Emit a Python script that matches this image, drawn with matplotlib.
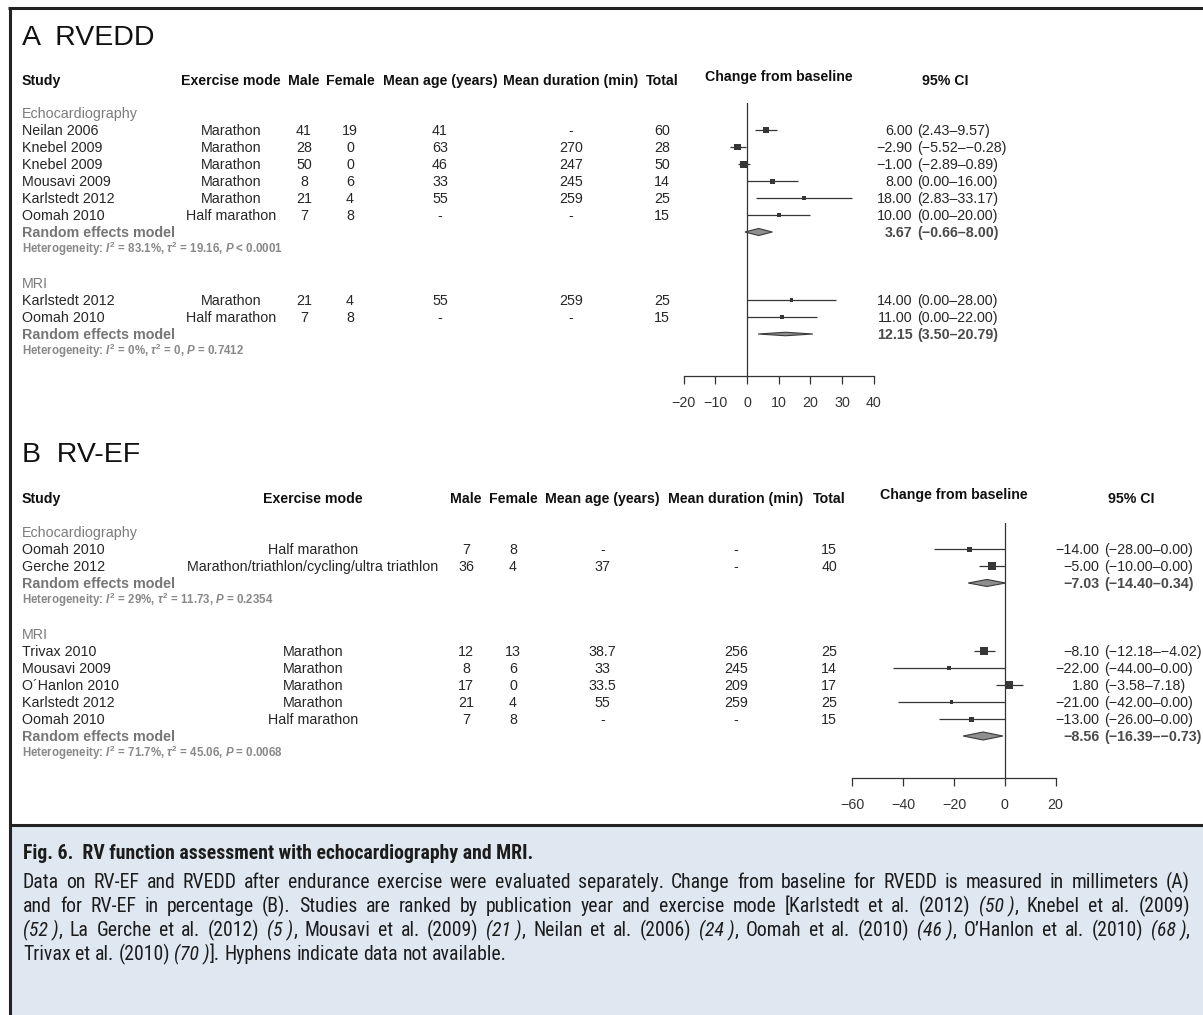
import os
import matplotlib
matplotlib.use("Agg")
import matplotlib.pyplot as plt
from matplotlib import font_manager as fm
from matplotlib.patches import Rectangle
import numpy as np

plt.rcParams["font.family"] = ["Liberation Sans", "DejaVu Sans"]
plt.rcParams["mathtext.fontset"] = "custom"
plt.rcParams["mathtext.rm"] = "Liberation Sans:bold"
plt.rcParams["mathtext.it"] = "Liberation Sans:italic:bold"
plt.rcParams["mathtext.bf"] = "Liberation Sans:bold"
plt.rcParams["axes.unicode_minus"] = True

# ---------------------------------------------------------------- data
header_labels = ["Exercise mode", "Male", "Female", "Mean age (years)",
                 "Mean duration (min)", "Total"]

# Panel A - RVEDD (mm), echocardiography
a_echo_study = ["Neilan 2006", "Knebel 2009", "Knebel 2009", "Mousavi 2009",
                "Karlstedt 2012", "Oomah 2010"]
a_echo_mode = ["Marathon", "Marathon", "Marathon", "Marathon", "Marathon",
               "Half marathon"]
a_echo_male = ["41", "28", "50", "8", "21", "7"]
a_echo_female = ["19", "0", "0", "6", "4", "8"]
a_echo_age = ["41", "63", "46", "33", "55", "-"]
a_echo_dur = ["-", "270", "247", "245", "259", "-"]
a_echo_total = ["60", "28", "50", "14", "25", "15"]
a_echo_est = [6.00, -2.90, -1.00, 8.00, 18.00, 10.00]
a_echo_lo = [2.43, -5.52, -2.89, 0.00, 2.83, 0.00]
a_echo_hi = [9.57, -0.28, 0.89, 16.00, 33.17, 20.00]
a_echo_weight = [40, 45, 49, 25, 10, 16]
a_echo_pooled = [3.67, -0.66, 8.00]
a_echo_het = ["83.1%", "19.16", "< 0.0001"]

# Panel A - RVEDD (mm), MRI
a_mri_study = ["Karlstedt 2012", "Oomah 2010"]
a_mri_mode = ["Marathon", "Half marathon"]
a_mri_male = ["21", "7"]
a_mri_female = ["4", "8"]
a_mri_age = ["55", "-"]
a_mri_dur = ["259", "-"]
a_mri_total = ["25", "15"]
a_mri_est = [14.00, 11.00]
a_mri_lo = [0.00, 0.00]
a_mri_hi = [28.00, 22.00]
a_mri_weight = [10, 16]
a_mri_pooled = [12.15, 3.50, 20.79]
a_mri_het = ["0%", "0", "= 0.7412"]

# Panel B - RV-EF (%), echocardiography
b_echo_study = ["Oomah 2010", "Gerche 2012"]
b_echo_mode = ["Half marathon", "Marathon/triathlon/cycling/ultra triathlon"]
b_echo_male = ["7", "36"]
b_echo_female = ["8", "4"]
b_echo_age = ["-", "37"]
b_echo_dur = ["-", "-"]
b_echo_total = ["15", "40"]
b_echo_est = [-14.00, -5.00]
b_echo_lo = [-28.00, -10.00]
b_echo_hi = [0.00, 0.00]
b_echo_weight = [25, 75]
b_echo_pooled = [-7.03, -14.40, 0.34]
b_echo_het = ["29%", "11.73", "= 0.2354"]

# Panel B - RV-EF (%), MRI
b_mri_study = ["Trivax 2010", "Mousavi 2009", "O\u00b4Hanlon 2010",
               "Karlstedt 2012", "Oomah 2010"]
b_mri_mode = ["Marathon", "Marathon", "Marathon", "Marathon", "Half marathon"]
b_mri_male = ["12", "8", "17", "21", "7"]
b_mri_female = ["13", "6", "0", "4", "8"]
b_mri_age = ["38.7", "33", "33.5", "55", "-"]
b_mri_dur = ["256", "245", "209", "259", "-"]
b_mri_total = ["25", "14", "17", "25", "15"]
b_mri_est = [-8.10, -22.00, 1.80, -21.00, -13.00]
b_mri_lo = [-12.18, -44.00, -3.58, -42.00, -26.00]
b_mri_hi = [-4.02, 0.00, 7.18, 0.00, 0.00]
b_mri_weight = [69, 12, 53, 12, 25]
b_mri_pooled = [-8.56, -16.39, -0.73]
b_mri_het = ["71.7%", "45.06", "= 0.0068"]

a_ticks = [-20, -10, 0, 10, 20, 30, 40]
b_ticks = [-60, -40, -20, 0, 20]


def group(label, study, mode, male, female, age, dur, total,
          est, lo, hi, weight, pooled, het):
    return dict(label=label, study=study,
                cols=[mode, male, female, age, dur, total],
                est=est, lo=lo, hi=hi, weight=weight, pooled=pooled, het=het)


panel_a = [
    group("Echocardiography", a_echo_study, a_echo_mode, a_echo_male,
          a_echo_female, a_echo_age, a_echo_dur, a_echo_total, a_echo_est,
          a_echo_lo, a_echo_hi, a_echo_weight, a_echo_pooled, a_echo_het),
    group("MRI", a_mri_study, a_mri_mode, a_mri_male, a_mri_female,
          a_mri_age, a_mri_dur, a_mri_total, a_mri_est, a_mri_lo, a_mri_hi,
          a_mri_weight, a_mri_pooled, a_mri_het),
]
panel_b = [
    group("Echocardiography", b_echo_study, b_echo_mode, b_echo_male,
          b_echo_female, b_echo_age, b_echo_dur, b_echo_total, b_echo_est,
          b_echo_lo, b_echo_hi, b_echo_weight, b_echo_pooled, b_echo_het),
    group("MRI", b_mri_study, b_mri_mode, b_mri_male, b_mri_female,
          b_mri_age, b_mri_dur, b_mri_total, b_mri_est, b_mri_lo, b_mri_hi,
          b_mri_weight, b_mri_pooled, b_mri_het),
]

# ---------------------------------------------------------------- layout
W, H = 1203, 1015
ROW_FS, HDR_FS, HET_FS, TITLE_FS = 10.3, 10.2, 8.3, 20.5
ROW_C, HDR_C, GREY_C, HET_C = "#262626", "#101010", "#7b7b7b", "#888888"
MARK_C = "#363636"

layout_a = dict(title="A  RVEDD", title_base=45, header_y=80, first_row=113,
                step=17, col_x=[231, 304, 350, 440, 571, 662],
                x0=683.7, x1=873.7, top=103, bottom=376, xlim=(-20, 40),
                ticks=a_ticks, est_x=912.5, ci_head_x=945,
                diamond_h=[7, 3.5])
layout_b = dict(title="B  RV-EF", title_base=462, header_y=498, first_row=532,
                step=17, col_x=[313, 466, 513, 602.6, 736, 829],
                x0=852.4, x1=1055.6, top=523, bottom=778, xlim=(-60, 20),
                ticks=b_ticks, est_x=1099.5, ci_head_x=1131,
                diamond_h=[7, 8])

fig = plt.figure(figsize=(W / 100, H / 100), dpi=100)
base = fig.add_axes([0, 0, 1, 1])
base.set_xlim(0, W)
base.set_ylim(H, 0)
base.axis("off")

# frame and caption box
base.add_patch(Rectangle((9.5, 825), W, H - 825, facecolor="#dfe8f1",
                         edgecolor="none", zorder=0))
for xs, ys in (([8, W], [8, 8]), ([9.5, 9.5], [7, H]), ([9.5, W], [825, 825])):
    base.plot(xs, ys, color="#222222", lw=2.2, solid_capstyle="butt")


def fmt(v):
    return f"{v:.2f}".replace("-", "\u2212")


def forest_axes(lay):
    ax = fig.add_axes([lay["x0"] / W, 1 - lay["bottom"] / H,
                       (lay["x1"] - lay["x0"]) / W,
                       (lay["bottom"] - lay["top"]) / H])
    ax.set_xlim(*lay["xlim"])
    ax.set_ylim(lay["bottom"], lay["top"])
    ax.patch.set_visible(False)
    for s in ("top", "right", "left"):
        ax.spines[s].set_visible(False)
    ax.spines["bottom"].set_color("#333333")
    ax.spines["bottom"].set_linewidth(0.9)
    ax.set_xticks(lay["ticks"])
    ax.set_yticks([])
    ax.tick_params(axis="x", direction="out", length=6.1, width=0.9,
                   colors="#333333", labelsize=ROW_FS, pad=8.6)
    ax.axvline(0, color="#333333", lw=0.9)
    return ax


def draw_panel(groups, lay):
    base.text(22, lay["title_base"], lay["title"], fontsize=TITLE_FS,
              color="#111111", ha="left", va="baseline")
    hy = lay["header_y"]
    hdr = dict(fontsize=HDR_FS, fontweight="bold", color=HDR_C, va="baseline")
    base.text(22, hy + 5, "Study", ha="left", **hdr)
    for x, lab in zip(lay["col_x"], header_labels):
        base.text(x, hy + 5, lab, ha="center", **hdr)
    base.text((lay["x0"] + lay["x1"]) / 2, hy + 1, "Change from baseline",
              ha="center", **hdr)
    base.text(lay["ci_head_x"], hy + 5, "95% CI", ha="center", **hdr)

    ax = forest_axes(lay)
    row = dict(fontsize=ROW_FS, color=ROW_C, va="baseline")
    ex = lay["est_x"]

    def ry(k):
        return lay["first_row"] + k * lay["step"]

    i = 0
    for gi, g in enumerate(groups):
        base.text(22, ry(i) + 5, g["label"], ha="left", fontsize=ROW_FS,
                  color=GREY_C, va="baseline")
        i += 1
        ys = []
        for k, name in enumerate(g["study"]):
            y = ry(i)
            ys.append(y)
            base.text(22, y + 5, name, ha="left", **row)
            for x, col in zip(lay["col_x"], g["cols"]):
                base.text(x, y + 5, col[k], ha="center", **row)
            base.text(ex, y + 5, fmt(g["est"][k]), ha="right", **row)
            base.text(ex + 4.5, y + 5,
                      f"({fmt(g['lo'][k])}\u2013{fmt(g['hi'][k])})",
                      ha="left", **row)
            i += 1
        ax.hlines(ys, g["lo"], g["hi"], color=MARK_C, lw=0.9, zorder=2)
        ax.scatter(g["est"], ys, s=np.asarray(g["weight"]) * 0.5184,
                   marker="s", color=MARK_C, linewidths=0, zorder=3)

        # pooled random-effects estimate
        y = ry(i)
        est, lo, hi = g["pooled"]
        h = lay["diamond_h"][gi]
        ax.fill([lo, est, hi, est], [y, y - h / 2, y, y + h / 2],
                facecolor="#8e8e8e", edgecolor="#3a3a3a", lw=0.8, zorder=3)
        base.text(22, y + 5, "Random effects model", ha="left",
                  fontsize=ROW_FS, fontweight="bold", color="#767676",
                  va="baseline")
        pooled = dict(fontsize=ROW_FS, fontweight="bold", color="#4a4a4a",
                      va="baseline")
        base.text(ex, y + 5, fmt(est), ha="right", **pooled)
        base.text(ex + 4.5, y + 5, f"({fmt(lo)}\u2013{fmt(hi)})", ha="left",
                  **pooled)
        i += 1

        i2, tau2, p = g["het"]
        base.text(22, ry(i) + 4,
                  f"Heterogeneity: $I^2$ = {i2}, $\\tau^2$ = {tau2}, $P$ {p}",
                  ha="left", va="baseline", fontsize=HET_FS,
                  fontweight="bold", color=HET_C)
        i += 2


draw_panel(panel_a, layout_a)
draw_panel(panel_b, layout_b)

# ---------------------------------------------------------------- caption
caption_title = "Fig. 6.  RV function assessment with echocardiography and MRI."
caption_lines = [
    "Data on RV-EF and RVEDD after endurance exercise were evaluated "
    "separately. Change from baseline for RVEDD is measured in millimeters (A)",
    "and for RV-EF in percentage (B). Studies are ranked by publication year "
    "and exercise mode [Karlstedt et al. (2012) *(50\u00a0)*, Knebel et al. (2009)",
    "*(52\u00a0)*, La Gerche et al. (2012) *(5\u00a0)*, Mousavi et al. (2009) "
    "*(21\u00a0)*, Neilan et al. (2006) *(24\u00a0)*, Oomah et al. (2010) "
    "*(46\u00a0)*, O\u2019Hanlon et al. (2010) *(68\u00a0)*,",
    "Trivax et al. (2010) *(70\u00a0)*]. Hyphens indicate data not available.",
]
CAP_C = "#1c1c1c"
cap_left, cap_right = 23, 1190


def condensed_faces():
    """Locate a narrow sans-serif face (regular, bold, italic) if one exists."""
    entries = fm.fontManager.ttflist
    by_file = {os.path.basename(f.fname).lower(): f.fname for f in entries}
    sets = [
        ("robotocondensed-regular.ttf", "robotocondensed-bold.ttf",
         "robotocondensed-italic.ttf"),
        ("liberationsansnarrow-regular.ttf", "liberationsansnarrow-bold.ttf",
         "liberationsansnarrow-italic.ttf"),
        ("notosans-condensed.ttf", "notosans-condensedbold.ttf",
         "notosans-condenseditalic.ttf"),
        ("opensans-condensedregular.ttf", "opensans-condensedbold.ttf",
         "opensans-condenseditalic.ttf"),
        ("dejavusanscondensed.ttf", "dejavusanscondensed-bold.ttf",
         "dejavusanscondensed-oblique.ttf"),
    ]
    for reg, bold, ital in sets:
        if reg in by_file:
            r = by_file[reg]
            return {"normal": r, "bold": by_file.get(bold, r),
                    "italic": by_file.get(ital, r)}
    # any other face flagged as condensed / narrow
    pool = {}
    for f in entries:
        low = os.path.basename(f.fname).lower()
        if not (("condensed" in low or "narrow" in low or "cond" in str(f.stretch))
                and not any(b in low for b in ("extra", "semi", "ultra"))):
            continue
        d = pool.setdefault(f.name, {})
        w = f.weight if isinstance(f.weight, int) else (700 if "bold" in str(f.weight) else 400)
        if f.style == "normal" and w == 400:
            d.setdefault("normal", f.fname)
        elif f.style == "normal" and w >= 600:
            d.setdefault("bold", f.fname)
        elif f.style != "normal" and w == 400:
            d.setdefault("italic", f.fname)
    for name, d in pool.items():
        if "normal" in d:
            return {"normal": d["normal"], "bold": d.get("bold", d["normal"]),
                    "italic": d.get("italic", d["normal"])}
    return None


FACES = condensed_faces()


def cap_props(size, kind="normal"):
    if FACES is not None:
        return fm.FontProperties(fname=FACES[kind], size=size)
    return fm.FontProperties(family="Liberation Sans", size=size,
                             weight="bold" if kind == "bold" else "normal",
                             style="italic" if kind == "italic" else "normal")


renderer = fig.canvas.get_renderer()


def text_width(s, size, kind="normal"):
    t = base.text(0, 0, s, fontproperties=cap_props(size, kind))
    w = t.get_window_extent(renderer=renderer).width
    t.remove()
    return w


def parse_words(line):
    words = []
    for w in line.split(" "):
        parts = w.split("*")
        words.append([(p, "italic" if j % 2 else "normal")
                      for j, p in enumerate(parts) if p])
    return words


def word_width(word, size):
    return sum(text_width(p, size, kind) for p, kind in word)


# pick the caption size so the longest line fits the box width
probe = 12.0
words0 = parse_words(caption_lines[0])
space0 = text_width("a a", probe) - text_width("aa", probe)
nat = sum(word_width(w, probe) for w in words0) + space0 * (len(words0) - 1)
cap_fs = min(14.2, probe * (cap_right - cap_left) * 0.99 / nat)

base.text(cap_left, 859, caption_title, ha="left", va="baseline",
          fontproperties=cap_props(cap_fs, "bold"), color=CAP_C)

space = text_width("a a", cap_fs) - text_width("aa", cap_fs)
for li, line in enumerate(caption_lines):
    words = parse_words(line)
    widths = [word_width(w, cap_fs) for w in words]
    if li < len(caption_lines) - 1 and len(words) > 1:
        gap = (cap_right - cap_left - sum(widths)) / (len(words) - 1)
    else:
        gap = space
    x = cap_left
    y = 888 + li * 24
    for w, ww in zip(words, widths):
        xx = x
        for p, kind in w:
            base.text(xx, y, p, ha="left", va="baseline",
                      fontproperties=cap_props(cap_fs, kind), color=CAP_C)
            xx += text_width(p, cap_fs, kind)
        x += ww + gap

fig.savefig("out.png", dpi=100)
